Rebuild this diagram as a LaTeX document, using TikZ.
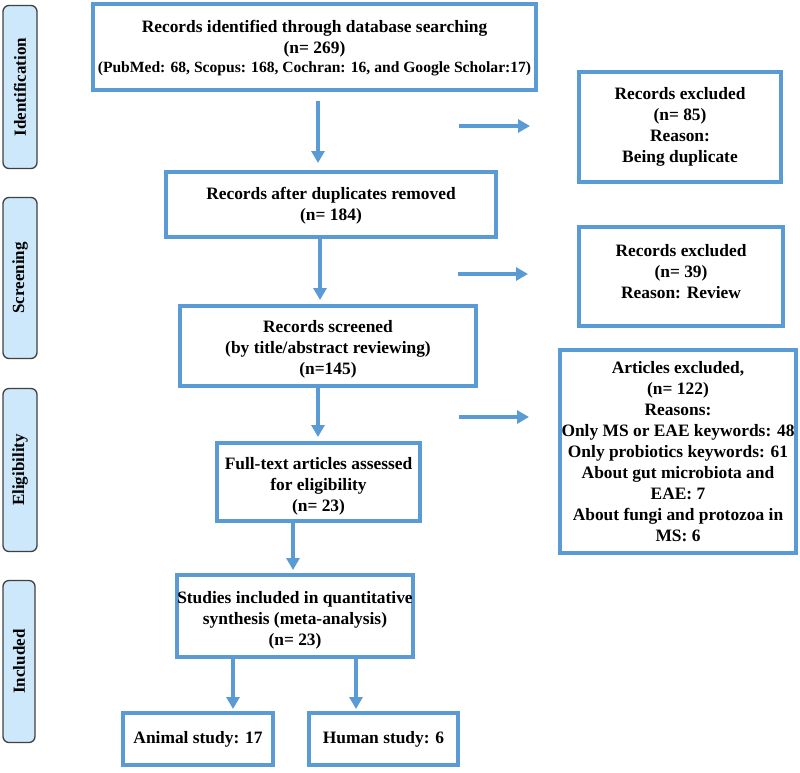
\documentclass[tikz,border=0pt]{standalone}
\usepackage{fontspec}
\setmainfont{Liberation Serif}
\usetikzlibrary{arrows.meta}
\definecolor{boxblue}{RGB}{91,155,213}
\definecolor{phasefill}{RGB}{204,232,250}
\definecolor{phaseline}{RGB}{64,64,64}
\newcommand{\upstrut}[1]{\rule{0pt}{#1}}
\begin{document}
\begin{tikzpicture}[x=1pt,y=-1pt,
  fbox/.style={draw=boxblue,line width=4pt,rectangle,inner sep=0pt,align=center,
    font=\bfseries\fontsize{17.4}{21}\selectfont},
  phase/.style={draw=phaseline,fill=phasefill,line width=1.3pt,rounded corners=6pt,
    inner sep=0pt,minimum width=34pt},
  ptext/.style={rotate=90,font=\bfseries\fontsize{17}{20}\selectfont},
  arr/.style={draw=boxblue,line width=4.5pt,-{Triangle[width=13pt,length=12pt]}}]
\useasboundingbox (0,0) rectangle (800,772);
% phase labels
\node[phase,minimum height=163pt] (p1) at (20,87) {};
\node[ptext] (p1t) at (p1.center) {Identification};
\node[phase,minimum height=161pt] (p2) at (20,278) {};
\node[ptext] (p2t) at (p2.center) {Screening};
\node[phase,minimum height=163pt] (p3) at (20,470) {};
\node[ptext] (p3t) at (p3.center) {Eligibility};
\node[phase,minimum height=162pt,minimum width=32pt] (p4) at (19,661.5) {};
\node[ptext] (p4t) at (p4.center) {Included};
% main boxes
\node[fbox,minimum width=443pt,minimum height=86pt] (b1) at (314.5,47)
  {\upstrut{14pt}Records identified through database searching\\(n= 269)\\[-2pt]
   {\fontsize{15.6}{19}\selectfont(PubMed: 68, Scopus: 168, Cochran: 16, and Google Scholar:17)}};
\node[fbox,minimum width=330pt,minimum height=65pt,text depth=0.8pt] (b2) at (331,204.5)
  {Records after duplicates removed\\(n= 184)};
\node[fbox,minimum width=296pt,minimum height=80pt] (b3) at (328,346)
  {\upstrut{19pt}Records screened\\(by title/abstract reviewing)\\(n=145)};
\node[fbox,minimum width=203pt,minimum height=78pt] (b4) at (318.5,482)
  {\upstrut{21pt}Full-text articles assessed\\for eligibility\\(n= 23)};
\node[fbox,minimum width=236pt,minimum height=82pt] (b5) at (295,616)
  {\upstrut{21pt}Studies included in quantitative\\synthesis (meta-analysis)\\(n= 23)};
\node[fbox,minimum width=150pt,minimum height=52pt] (b6) at (198,739)
  {Animal study: 17};
\node[fbox,minimum width=149pt,minimum height=52pt] (b7) at (383.5,739)
  {Human study: 6};
% right boxes
\node[fbox,minimum width=202pt,minimum height=110pt] (r1) at (680,127)
  {Records excluded\\(n= 85)\\Reason:\\Being duplicate};
\node[fbox,minimum width=204pt,minimum height=99pt,text depth=10pt] (r2) at (681,276.5)
  {Records excluded\\(n= 39)\\Reason: Review};
\node[fbox,minimum width=236pt,minimum height=203pt] (r3) at (678,451.5)
  {Articles excluded,\\(n= 122)\\Reasons:\\Only MS or EAE keywords: 48\\Only probiotics keywords: 61\\
   About gut microbiota and\\EAE: 7\\About fungi and protozoa in\\MS: 6};
% vertical arrows
\draw[arr,shorten <=9pt,shorten >=7pt] ([xshift=3.5pt]b1.south) -- ([xshift=3.5pt]b1.south |- b2.north);
\draw[arr,shorten >=4pt] ([xshift=-11pt]b2.south) -- ([xshift=-11pt]b2.south |- b3.north);
\draw[arr,shorten >=4pt] ([xshift=-10pt]b3.south) -- ([xshift=-10pt]b3.south |- b4.north);
\draw[arr,shorten >=3pt] ([xshift=-25.5pt]b4.south) -- ([xshift=-25.5pt]b4.south |- b5.north);
\draw[arr,shorten >=2pt] ([xshift=-62pt]b5.south) -- ([xshift=-62pt]b5.south |- b6.north);
\draw[arr,shorten >=2pt] ([xshift=61pt]b5.south) -- ([xshift=61pt]b5.south |- b7.north);
% horizontal arrows (floating)
\coordinate (h1) at (459,126);
\coordinate (h2) at (458,274);
\coordinate (h3) at (459,417);
\draw[arr,shorten >=47pt] (h1) -- (h1 -| r1.west);
\draw[arr,shorten >=49pt] (h2) -- (h2 -| r2.west);
\draw[arr,shorten >=29pt] (h3) -- (h3 -| r3.west);
\end{tikzpicture}
\end{document}
